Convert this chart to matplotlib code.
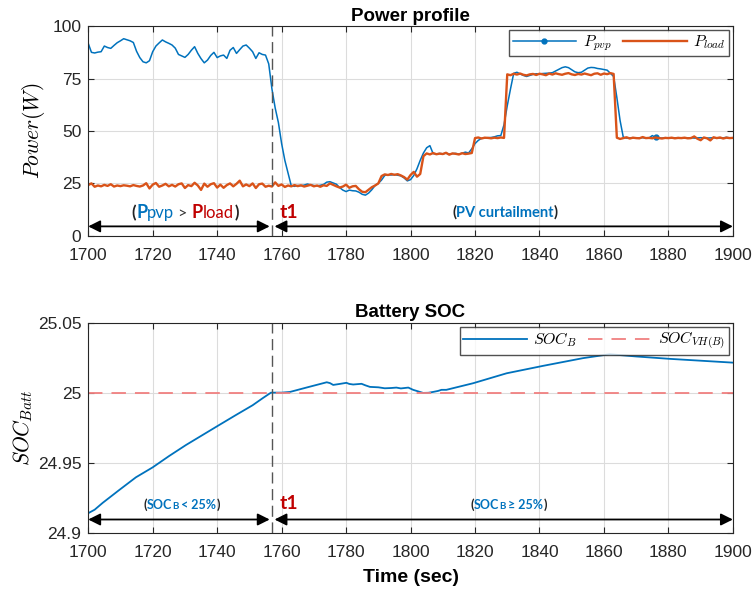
import numpy as np
import matplotlib
matplotlib.use("Agg")
import matplotlib.pyplot as plt

plt.rcParams['font.family'] = ['Liberation Sans', 'DejaVu Sans']
plt.rcParams['mathtext.fontset'] = 'cm'

BLUE = '#0072BD'
ORANGE = '#D95319'

# ---------- data
# time base, 1 s samples
t_pow = np.arange(1700, 1901)

p_pvp = [
    91.8, 87.5, 87.2, 87.6, 87.8, 90.5, 89.8, 89.4, 90.8, 92.1,
    93.0, 94.0, 93.5, 93.0, 92.2, 88.0, 85.0, 83.0, 82.5, 83.5,
    87.8, 90.5, 92.0, 93.4, 92.5, 91.8, 91.0, 89.5, 86.5, 85.8,
    85.1, 86.5, 88.5, 90.2, 87.0, 84.5, 82.5, 83.8, 86.0, 87.5,
    85.0, 85.8, 86.2, 84.6, 88.5, 89.8, 87.0, 88.8, 90.5, 91.0,
    89.5, 87.8, 84.6, 87.3, 86.5, 86.2, 82.0, 70.0, 61.0, 54.0,
    44.0, 36.0, 30.0, 23.8, 23.6, 24.0, 23.9, 24.2, 24.7, 24.3,
    24.0, 23.8, 24.1, 24.5, 25.6, 25.8, 25.2, 24.6, 23.0, 21.8,
    21.1, 21.8, 21.5, 21.4, 20.8, 19.8, 19.4, 20.4, 22.0, 24.0,
    25.0, 26.6, 28.8, 29.1, 29.0, 29.2, 28.9, 28.6, 27.6, 26.2,
    26.8, 28.8, 32.0, 36.0, 39.5, 42.0, 43.0, 39.2, 39.0, 39.3,
    39.1, 39.4, 39.0, 39.2, 39.3, 39.0, 39.4, 39.9, 39.5, 41.5,
    44.0, 45.5, 46.5, 46.7, 46.8, 46.9, 47.2, 47.7, 47.8, 53.0,
    62.0, 70.0, 77.5, 78.0, 77.2, 76.5, 76.0, 76.5, 77.0, 77.3,
    77.2, 77.4, 77.5, 77.6, 77.8, 78.6, 79.4, 80.2, 80.6, 80.2,
    79.2, 78.2, 77.8, 78.0, 79.0, 80.0, 80.3, 80.2, 79.8, 79.6,
    79.3, 79.0, 77.5, 76.0, 66.0, 55.0, 47.0, 46.6, 46.7, 46.8,
    46.6, 46.7, 46.8, 46.6, 46.7, 47.8, 46.9, 46.7, 46.6, 46.8,
    46.7, 46.6, 46.7, 46.8, 46.7, 46.6, 46.7, 46.8, 46.6, 46.7,
    46.8, 46.7, 46.6, 46.7, 46.8, 46.7, 46.6, 46.7, 47.0, 46.7,
    46.8,
]

p_load = [
    24.2, 25.0, 23.4, 24.0, 23.6, 24.3, 23.8, 24.6, 23.5, 24.0,
    23.7, 24.1, 23.9, 23.6, 24.2, 23.8, 23.5, 24.0, 25.1, 22.6,
    24.4, 25.2, 23.4, 24.0, 24.8, 23.6, 24.3, 23.5, 24.6, 25.0,
    22.8, 24.2, 23.7, 25.3, 24.0, 21.9, 24.9, 23.4, 24.6, 25.1,
    23.0, 24.4, 22.9, 24.2, 25.0, 23.6, 24.8, 26.3, 23.6, 24.5,
    23.7, 25.0, 22.8, 24.6, 24.9, 23.4, 23.9, 23.5, 25.5, 23.8,
    24.5, 23.3, 24.0, 23.6, 24.2, 23.7, 24.1, 23.5, 23.9, 24.3,
    23.6, 24.0, 23.4, 24.1, 23.8, 25.0, 24.3, 23.6, 23.0, 23.5,
    24.4, 22.9, 23.6, 23.8, 22.2, 21.0, 20.8, 22.0, 23.2, 24.0,
    25.0, 28.5, 29.3, 29.0, 29.5, 29.1, 29.4, 28.8, 28.0, 26.8,
    29.0, 30.5, 28.2, 29.5, 38.0, 39.3, 38.8, 39.5, 38.9, 39.2,
    39.0, 39.6, 38.7, 39.3, 39.1, 38.8, 39.4, 39.0, 39.2, 39.5,
    46.6, 46.9, 46.4, 46.8, 46.7, 46.5, 46.8, 46.6, 46.9, 46.7,
    77.0, 76.6, 77.3, 76.9, 77.4, 76.8, 76.5, 77.0, 77.2, 76.7,
    77.3, 77.0, 76.6, 77.4, 76.9, 77.5, 77.1, 76.8, 77.3, 77.6,
    77.0, 76.7, 77.2, 76.9, 77.4, 77.0, 76.6, 77.3, 77.5, 76.8,
    77.4, 77.1, 77.6, 77.2, 46.8, 46.2, 46.6, 47.0, 46.4, 46.8,
    46.6, 46.5, 47.1, 46.6, 46.7, 46.5, 46.9, 46.6, 46.4, 46.7,
    46.6, 46.8, 46.5, 46.7, 46.6, 46.8, 46.5, 46.6, 47.4, 46.3,
    45.6, 46.9, 46.5, 45.5, 47.0, 46.6, 46.9, 46.4, 46.8, 46.6,
    46.7,
]

t_soc = [1700, 1702, 1704.5, 1709.6, 1714.8, 1720, 1725.1, 1730.3, 1735.5,
         1740.7, 1745.8, 1751, 1754.1, 1756.7, 1760, 1762.6, 1768, 1774,
         1775, 1776, 1778, 1780.1, 1781, 1782.2, 1784.8, 1786, 1787.4, 1790,
         1792, 1794, 1795.6, 1797, 1799.3, 1800.8, 1802.5, 1803.9, 1805.5,
         1807, 1808.5, 1809.6, 1811.1, 1819.4, 1829.8, 1841.1, 1853.5,
         1861.8, 1870, 1880.4, 1900]
soc_b = [24.914, 24.9165, 24.9214, 24.9305, 24.9396, 24.9467, 24.9548,
         24.9626, 24.9698, 24.977, 24.984, 24.991, 24.996, 25.0, 25.0,
         25.0005, 25.0038, 25.0074, 25.0068, 25.0055, 25.0062, 25.007,
         25.0062, 25.0058, 25.0063, 25.0052, 25.0041, 25.0038, 25.0031,
         25.0033, 25.0036, 25.0030, 25.0036, 25.002, 25.0008, 24.9998,
         24.9999, 25.0005, 25.0012, 25.002, 25.002, 25.0067, 25.0138,
         25.0191, 25.0246, 25.0274, 25.0258, 25.0241, 25.0214]
soc_vh = 25.0

t1 = 1757
x_ticks = [1700, 1720, 1740, 1760, 1780, 1800, 1820, 1840, 1860, 1880, 1900]
p_ticks = [0, 25, 50, 75, 100]
soc_ticks = [24.9, 24.95, 25.0, 25.05]
soc_ticklabels = ['24.9', '24.95', '25', '25.05']

# ---------- figure
fig = plt.figure(figsize=(7.54, 5.94), dpi=100)
ax1 = fig.add_axes([0.117, 0.603, 0.855, 0.353])
ax2 = fig.add_axes([0.117, 0.103, 0.855, 0.354])

def style(ax):
    ax.grid(True, color='#dcdcdc', lw=0.8)
    ax.set_axisbelow(True)
    ax.tick_params(direction='in', top=True, right=True, labelsize=12.5,
                   length=4, color='#262626', labelcolor='#262626')
    ax.tick_params(axis='x', pad=9)
    ax.tick_params(axis='y', pad=5)
    for s in ax.spines.values():
        s.set_color('#262626')
    ax.set_xlim(1700, 1900)
    ax.set_xticks(x_ticks)

leg_kw = dict(loc='upper right', ncol=2, fontsize=11.5, frameon=True,
              fancybox=False, edgecolor='#262626', handlelength=4.0,
              columnspacing=0.7, handletextpad=0.4, borderpad=0.2,
              borderaxespad=0.25)

# top panel
style(ax1)
ax1.plot(t_pow, p_pvp, color=BLUE, lw=1.1, marker='.', ms=7,
         markevery=[176], label='$P_{pvp}$')
ax1.plot(t_pow, p_load, color=ORANGE, lw=1.7, label='$P_{load}$')
ax1.set_ylim(0, 100)
ax1.set_yticks(p_ticks)
ax1.axvline(t1, color='#555555', lw=1.0, ls=(0, (8, 4)))
ax1.set_title('Power profile', fontsize=13.5, fontweight='bold', pad=4)
ax1.set_ylabel('$Power(W)$', fontsize=15.5, labelpad=4)
ax1.legend(**leg_kw)

arr = dict(arrowstyle='<|-|>', color='k', lw=1.3, shrinkA=0, shrinkB=0,
           mutation_scale=18)
ax1.annotate('', xy=(1700, 4.5), xytext=(1756.3, 4.5), arrowprops=arr)
ax1.annotate('', xy=(1757.8, 4.5), xytext=(1900, 4.5), arrowprops=arr)

tf = ['Lato', 'DejaVu Sans']
a = ax1.text(1713.5, 11, '(', fontsize=12, fontweight='bold', family=tf,
             color='#222222', va='center')
b = ax1.annotate('P', xy=(1, 0), xycoords=a, va='bottom', fontsize=13,
                 fontweight='bold', color=BLUE, family=tf)
b = ax1.annotate('pvp', xy=(1, 0), xycoords=b, va='bottom', fontsize=12,
                 color=BLUE, family=tf)
b = ax1.annotate(' > ', xy=(1, 0), xycoords=b, va='bottom', fontsize=11.5,
                 color='#333333', family=tf)
b = ax1.annotate('P', xy=(1, 0), xycoords=b, va='bottom', fontsize=13,
                 fontweight='bold', color='#C00000', family=tf)
b = ax1.annotate('load', xy=(1, 0), xycoords=b, va='bottom', fontsize=12,
                 color='#C00000', family=tf)
ax1.annotate(')', xy=(1, 0), xycoords=b, va='bottom', fontsize=12,
             fontweight='bold', color='#222222', family=tf)

a = ax1.text(1813, 11, '(', fontsize=10.5, fontweight='bold', family=tf,
             color='#222222', va='center')
b = ax1.annotate('PV curtailment', xy=(1, 0), xycoords=a, va='bottom',
                 fontsize=10.5, fontweight='bold', color=BLUE, family=tf)
ax1.annotate(')', xy=(1, 0), xycoords=b, va='bottom', fontsize=10.5,
             fontweight='bold', color='#222222', family=tf)
ax1.text(1759.5, 11, 't1', fontsize=14, fontweight='bold', color='#C00000',
         family=tf, va='center')

# bottom panel
style(ax2)
ax2.plot(t_soc, soc_b, color=BLUE, lw=1.3, label='$SOC_B$')
ax2.axhline(soc_vh, color='#F08080', lw=1.3, ls=(0, (8, 5)),
            label='$SOC_{VH(B)}$')
ax2.set_ylim(24.9, 25.05)
ax2.set_yticks(soc_ticks)
ax2.set_yticklabels(soc_ticklabels)
ax2.axvline(t1, color='#555555', lw=1.0, ls=(0, (8, 4)))
ax2.set_title('Battery SOC', fontsize=13.5, fontweight='bold', pad=4)
ax2.set_ylabel('$SOC_{Batt}$', fontsize=15.5, labelpad=2)
ax2.set_xlabel('Time (sec)', fontsize=14, fontweight='bold', labelpad=6)
ax2.legend(**leg_kw)

ax2.annotate('', xy=(1700, 24.9095), xytext=(1756.3, 24.9095), arrowprops=arr)
ax2.annotate('', xy=(1757.8, 24.9095), xytext=(1900, 24.9095), arrowprops=arr)

a = ax2.text(1717, 24.92, '(', fontsize=9, fontweight='bold', family=tf,
             color='#222222', va='center')
b = ax2.annotate('SOC', xy=(1, 0), xycoords=a, va='bottom', fontsize=9,
                 fontweight='bold', color=BLUE, family=tf)
b = ax2.annotate('B', xy=(1, 0), xycoords=b, va='bottom', fontsize=7,
                 fontweight='bold', color=BLUE, family=tf)
b = ax2.annotate(' < 25%', xy=(1, 0), xycoords=b, va='bottom', fontsize=9,
                 fontweight='bold', color=BLUE, family=tf)
ax2.annotate(')', xy=(1, 0), xycoords=b, va='bottom', fontsize=9,
             fontweight='bold', color='#222222', family=tf)

a = ax2.text(1818.5, 24.92, '(', fontsize=9, fontweight='bold', family=tf,
             color='#222222', va='center')
b = ax2.annotate('SOC', xy=(1, 0), xycoords=a, va='bottom', fontsize=9,
                 fontweight='bold', color=BLUE, family=tf)
b = ax2.annotate('B', xy=(1, 0), xycoords=b, va='bottom', fontsize=7,
                 fontweight='bold', color=BLUE, family=tf)
b = ax2.annotate(' \u2265 25%', xy=(1, 0), xycoords=b, va='bottom', fontsize=9,
                 fontweight='bold', color=BLUE, family=tf)
ax2.annotate(')', xy=(1, 0), xycoords=b, va='bottom', fontsize=9,
             fontweight='bold', color='#222222', family=tf)
ax2.text(1759.5, 24.921, 't1', fontsize=14, fontweight='bold', color='#C00000',
         family=tf, va='center')

fig.savefig('out.png', dpi=100)
